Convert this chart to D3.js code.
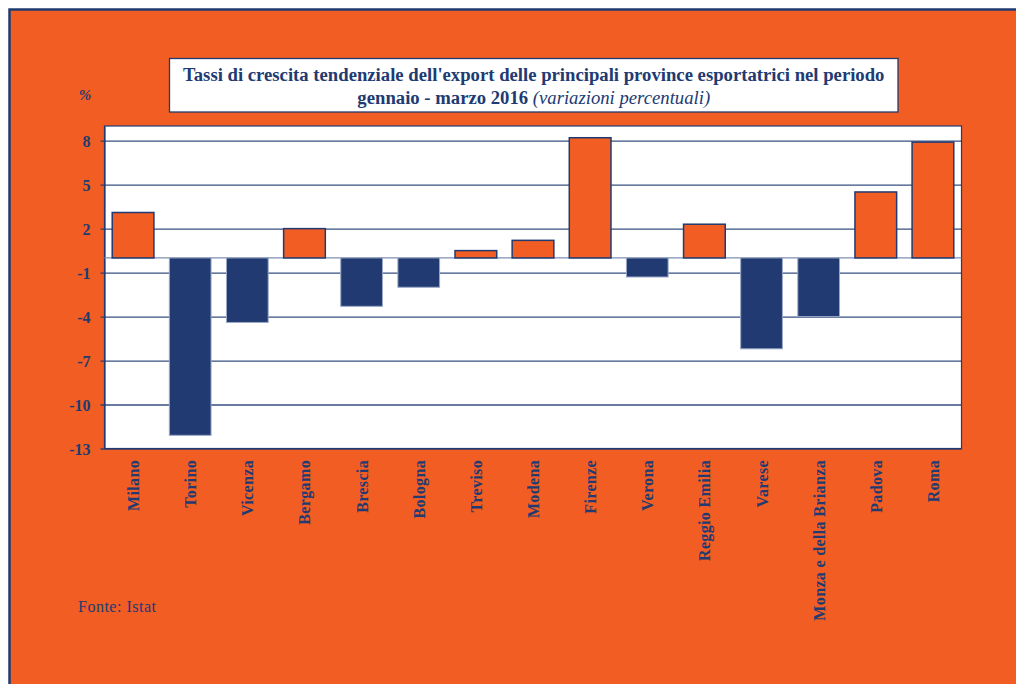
<!DOCTYPE html>
<html>
<head>
<meta charset="utf-8">
<script src="https://cdn.jsdelivr.net/npm/d3@7/dist/d3.min.js"></script>
<style>
  html, body { margin: 0; padding: 0; background: #ffffff; }
  svg { display: block; }
</style>
</head>
<body>
<svg id="chart" width="1016" height="684"></svg>
<script>
// Province and year-on-year export growth, Jan–Mar 2016 (%)
const provinces = ["Milano", "Torino", "Vicenza", "Bergamo", "Brescia", "Bologna", "Treviso",
  "Modena", "Firenze", "Verona", "Reggio Emilia", "Varese", "Monza e della Brianza", "Padova", "Roma"];
const growth = [3.1, -12.1, -4.4, 2.0, -3.3, -2.0, 0.5, 1.2, 8.2, -1.3, 2.3, -6.2, -4.0, 4.5, 7.9];
const yTicks = [8, 5, 2, -1, -4, -7, -10, -13];
const titleLine1 = "Tassi di crescita tendenziale dell'export delle principali province esportatrici nel periodo";
const titleLine2 = "gennaio - marzo 2016";
const titleItalic = "(variazioni percentuali)";
const unitLabel = "%";
const sourceNote = "Fonte: Istat";

const ORANGE = "#F15D22";
const NAVY = "#213B72";
const SERIF = "'Liberation Serif', 'Times New Roman', serif";

const svg = d3.select("#chart");

// Outer frame
svg.append("rect")
  .attr("x", 9.5).attr("y", 9.5)
  .attr("width", 1016).attr("height", 684)
  .attr("fill", ORANGE)
  .attr("stroke", NAVY).attr("stroke-width", 2.5);

// Plot area
const plot = { left: 104.5, right: 961.5, top: 126, bottom: 448.5 };

const x = d3.scaleBand()
  .domain(provinces)
  .range([plot.left, plot.right])
  .paddingInner(0.27)
  .paddingOuter(0.135);

const y = d3.scaleLinear()
  .domain([-13, 9])
  .range([plot.bottom, plot.top]);

svg.append("rect")
  .attr("x", plot.left).attr("y", plot.top)
  .attr("width", plot.right - plot.left).attr("height", plot.bottom - plot.top)
  .attr("fill", "#ffffff")
  .attr("stroke", NAVY).attr("stroke-width", 1.2);

// Gridlines and ticks via a left axis
const yAxis = d3.axisLeft(y)
  .tickValues(yTicks)
  .tickSize(-(plot.right - plot.left))
  .tickSizeOuter(0)
  .tickPadding(14)
  .tickFormat(d => String(d));

const gy = svg.append("g")
  .attr("transform", `translate(${plot.left},0)`)
  .call(yAxis);
gy.select(".domain").attr("stroke", NAVY).attr("stroke-width", 1.2);
gy.selectAll(".tick line")
  .attr("stroke", NAVY).attr("stroke-width", 1.3).attr("stroke-opacity", 0.9)
  .attr("x1", -4);
gy.selectAll(".tick text")
  .attr("fill", NAVY)
  .attr("font-family", SERIF)
  .attr("font-weight", "bold")
  .attr("font-size", "16px")
  .attr("dy", "0.36em");

// Zero baseline
svg.append("line")
  .attr("x1", plot.left).attr("x2", plot.right)
  .attr("y1", y(0)).attr("y2", y(0))
  .attr("stroke", "#7f8fb0").attr("stroke-width", 1.2);

// Bars: orange for growth, navy for decline
svg.append("g").selectAll("rect")
  .data(provinces.map((p, i) => ({ p, v: growth[i] })))
  .join("rect")
  .attr("x", d => x(d.p))
  .attr("width", x.bandwidth())
  .attr("y", d => y(Math.max(0, d.v)))
  .attr("height", d => Math.abs(y(d.v) - y(0)))
  .attr("fill", d => d.v >= 0 ? ORANGE : NAVY)
  .attr("stroke", d => d.v >= 0 ? NAVY : "#9aa8c6")
  .attr("stroke-width", d => d.v >= 0 ? 1.5 : 1);

// Category labels, rotated
svg.append("g").selectAll("text")
  .data(provinces)
  .join("text")
  .attr("transform", d => `translate(${x(d) + x.bandwidth() / 2 + 6},460) rotate(-90)`)
  .attr("text-anchor", "end")
  .attr("fill", NAVY)
  .attr("font-family", SERIF)
  .attr("font-weight", "bold")
  .attr("font-size", "16px")
  .attr("letter-spacing", "0.35px")
  .text(d => d);

// Title box
svg.append("rect")
  .attr("x", 169.5).attr("y", 58.5)
  .attr("width", 728.5).attr("height", 53.5)
  .attr("fill", "#ffffff")
  .attr("stroke", NAVY).attr("stroke-width", 1.3);

const titleX = (169.5 + 898) / 2;
svg.append("text")
  .attr("x", titleX).attr("y", 80.5)
  .attr("text-anchor", "middle")
  .attr("fill", NAVY)
  .attr("font-family", SERIF)
  .attr("font-weight", "bold")
  .attr("font-size", "18.7px")
  .text(titleLine1);

const t2 = svg.append("text")
  .attr("x", titleX).attr("y", 104)
  .attr("text-anchor", "middle")
  .attr("fill", NAVY)
  .attr("font-family", SERIF)
  .attr("font-size", "18.7px");
t2.append("tspan").attr("font-weight", "bold").text(titleLine2 + " ");
t2.append("tspan").attr("font-style", "italic").text(titleItalic);

// Unit label
svg.append("text")
  .attr("x", 85).attr("y", 100)
  .attr("text-anchor", "middle")
  .attr("fill", NAVY)
  .attr("font-family", SERIF)
  .attr("font-weight", "bold")
  .attr("font-style", "italic")
  .attr("font-size", "15px")
  .text(unitLabel);

// Source note
svg.append("text")
  .attr("x", 78).attr("y", 612)
  .attr("fill", NAVY)
  .attr("font-family", SERIF)
  .attr("font-size", "16px")
  .attr("letter-spacing", "0.5px")
  .text(sourceNote);
</script>
</body>
</html>
